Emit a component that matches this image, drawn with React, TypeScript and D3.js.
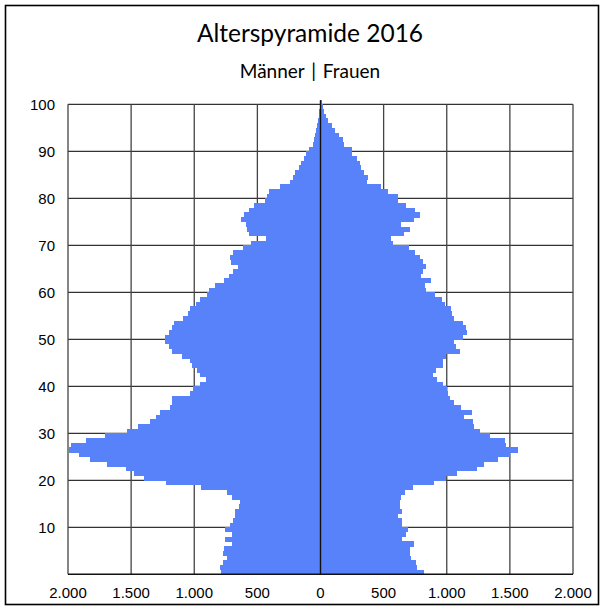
import React from "react";
import * as d3 from "d3";

// Population per single year of age (index = age 0..100)
const male: number[] = [
  787, 800, 776, 740, 773, 768, 700, 760, 700, 755,
  715, 696, 681, 676, 645, 641, 702, 741, 945, 1225,
  1396, 1481, 1540, 1692, 1829, 1911, 1995, 1975, 1856, 1710,
  1533, 1449, 1348, 1304, 1269, 1190, 1177, 1177, 1032, 1006,
  958, 905, 958, 979, 1019, 1032, 1098, 1177, 1203, 1235,
  1235, 1200, 1177, 1160, 1088, 1050, 1035, 990, 955, 900,
  882, 835, 762, 727, 692, 657, 708, 715, 690, 610,
  552, 428, 570, 583, 588, 629, 604, 570, 530, 440,
  420, 405, 324, 245, 216, 200, 172, 157, 130, 116,
  88, 60, 48, 40, 33, 26, 20, 14, 9, 6,
  4,
];
const female: number[] = [
  820, 768, 760, 716, 711, 705, 737, 645, 675, 692,
  645, 645, 610, 644, 628, 631, 634, 671, 735, 898,
  996, 1082, 1240, 1295, 1402, 1502, 1561, 1471, 1463, 1340,
  1265, 1212, 1210, 1133, 1199, 1114, 1054, 1022, 1006, 1001,
  967, 922, 889, 917, 969, 969, 996, 1101, 1070, 1059,
  1125, 1157, 1154, 1125, 1054, 1040, 1036, 985, 960, 910,
  838, 825, 872, 798, 812, 838, 815, 791, 748, 702,
  575, 560, 660, 712, 640, 738, 785, 745, 680, 610,
  612, 531, 480, 370, 377, 344, 322, 313, 290, 250,
  250, 190, 178, 145, 115, 88, 58, 42, 28, 19,
  12,
];

const xTickValues: number[] = [-2000, -1500, -1000, -500, 0, 500, 1000, 1500, 2000];
const xTickLabels: string[] = ["2.000", "1.500", "1.000", "500", "0", "500", "1.000", "1.500", "2.000"];
const yTickValues: number[] = [10, 20, 30, 40, 50, 60, 70, 80, 90, 100];
const yTickLabels: string[] = ["10", "20", "30", "40", "50", "60", "70", "80", "90", "100"];

const title = "Alterspyramide 2016";
const subtitle = "Männer | Frauen";

export default function App() {
  const W = 604;
  const H = 610;
  const x = d3.scaleLinear().domain([-2000, 2000]).range([68, 573]);
  const y = d3.scaleLinear().domain([0, 100]).range([574.3, 104.3]);
  const barColor = "#5882fa";
  const axisFont = "'Liberation Sans', Arial, sans-serif";
  const titleFont = "Lato, 'Open Sans', sans-serif";

  return (
    <svg
      width={W}
      height={H}
      style={{ position: "absolute", left: 0, top: 0, background: "#fff" }}
    >
      <rect x={0} y={0} width={W} height={H} fill="#fff" />
      <rect x={5.5} y={5.5} width={593} height={599} fill="none" stroke="#000" strokeWidth={1.6} />

      <text x={310} y={42} textAnchor="middle" fontFamily={titleFont} fontSize={24.5} fill="#000">
        {title}
      </text>
      <text x={310} y={78} textAnchor="middle" fontFamily={titleFont} fontSize={19} wordSpacing={2} fill="#000">
        {subtitle}
      </text>

      {/* horizontal grid */}
      {yTickValues.map((t) => (
        <line key={"h" + t} x1={x(-2000)} x2={x(2000)} y1={y(t)} y2={y(t)} stroke="#333" strokeWidth={1.2} />
      ))}
      {/* vertical grid */}
      {xTickValues.filter((t) => t !== 0).map((t) => (
        <line key={"v" + t} x1={x(t)} x2={x(t)} y1={y(100)} y2={y(0)} stroke="#444" strokeWidth={1.3} />
      ))}

      {/* bars */}
      <g shapeRendering="crispEdges">
        {male.map((v, a) => (
          <rect
            key={"m" + a}
            x={x(-v)}
            y={y(a + 1)}
            width={x(0) - x(-v)}
            height={y(a) - y(a + 1) + 0.4}
            fill={barColor}
          />
        ))}
        {female.map((v, a) => (
          <rect
            key={"f" + a}
            x={x(0)}
            y={y(a + 1)}
            width={x(v) - x(0)}
            height={y(a) - y(a + 1) + 0.4}
            fill={barColor}
          />
        ))}
      </g>

      {/* zero line and bottom axis */}
      <line x1={x(0)} x2={x(0)} y1={y(100) - 4} y2={y(0)} stroke="#111" strokeWidth={1.4} />
      <line x1={x(-2000)} x2={x(2000)} y1={y(0)} y2={y(0)} stroke="#111" strokeWidth={1.4} />

      {/* y labels */}
      {yTickValues.map((t, i) => (
        <text
          key={"yl" + t}
          x={55}
          y={y(t)}
          dy="0.35em"
          textAnchor="end"
          fontFamily={axisFont}
          fontSize={15}
          fill="#000"
        >
          {yTickLabels[i]}
        </text>
      ))}
      {/* x labels */}
      {xTickValues.map((t, i) => (
        <text
          key={"xl" + i}
          x={x(t)}
          y={598}
          textAnchor="middle"
          fontFamily={axisFont}
          fontSize={15}
          fill="#000"
        >
          {xTickLabels[i]}
        </text>
      ))}
    </svg>
  );
}
